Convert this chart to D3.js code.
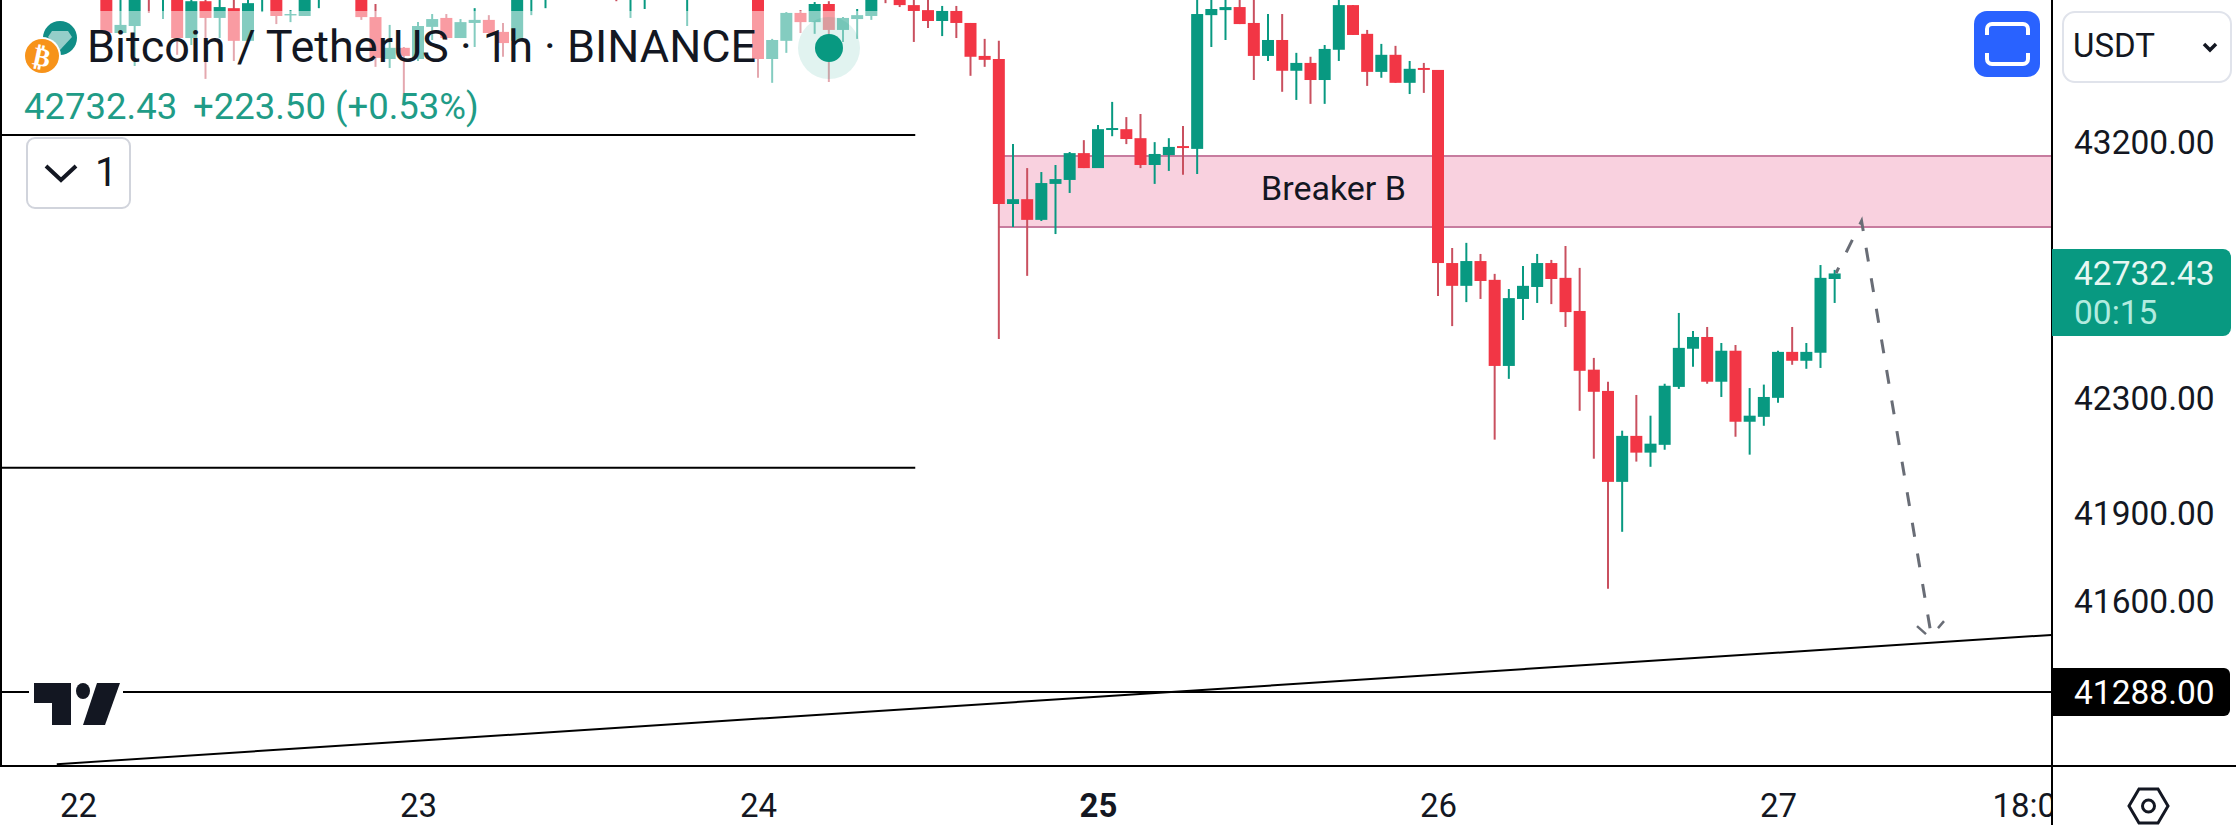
<!DOCTYPE html>
<html>
<head>
<meta charset="utf-8">
<script src="https://cdn.jsdelivr.net/npm/d3@7/dist/d3.min.js"></script>
<style>
  html, body { margin: 0; padding: 0; background: #fff; }
  svg { display: block; font-family: Roboto, sans-serif; }
</style>
</head>
<body>
<div id="chart"></div>
<script>
// hourly candles, first one is hour 2 of day 22
var firstHour = 2;

var opens = [
  43757,43585,43610,43792,43721,43721,43567,43699,43639,43674,
  43557,43714,43710,43648,43646,43721,43775,43760,43750,43642,
  43492,43532,43492,43607,43639,43567,43621,43632,43589,43557,
  43732,43721,43790,43770,43800,43765,43760,43730,43770,43800,
  43770,43735,43790,43760,43785,43755,43732,43492,43557,43657,
  43624,43689,43596,43635,43646,43770,43725,43685,43667,43628,
  43664,43621,43503,43492,42977,42994,42921,43048,43062,43157,
  43104,43239,43242,43210,43115,43150,43182,43172,43649,43667,
  43678,43621,43503,43560,43450,43478,43417,43525,43685,43582,
  43446,43507,43407,43460,43453,42769,42689,42776,42710,42409,
  42643,42685,42769,42717,42601,42396,42322,42007,42166,42108,
  42135,42336,42469,42510,42354,42462,42215,42232,42298,42458,
  42427,42455,42713
];
var highs = [
  43774,43750,43760,43810,43810,43740,43730,43715,43715,43710,
  43710,43775,43730,43667,43730,43790,43795,43810,43770,43689,
  43614,43535,43624,43653,43653,43635,43674,43649,43621,43760,
  43810,43800,43810,43820,43830,43815,43780,43790,43820,43825,
  43815,43810,43810,43800,43800,43800,43750,43564,43660,43667,
  43696,43699,43642,43671,43755,43790,43745,43710,43710,43682,
  43682,43621,43564,43557,43189,43104,43090,43115,43161,43203,
  43257,43339,43285,43296,43196,43210,43253,43730,43725,43720,
  43725,43725,43653,43653,43514,43500,43542,43720,43685,43596,
  43546,43539,43485,43478,43453,42822,42840,42801,42731,42678,
  42759,42801,42780,42829,42752,42437,42354,42184,42308,42236,
  42347,42594,42531,42545,42489,42482,42332,42344,42462,42545,
  42489,42762,42745
];
var lows = [
  43582,43585,43467,43657,43635,43507,43542,43421,43567,43485,
  43557,43660,43617,43624,43646,43674,43740,43735,43632,43464,
  43460,43335,43485,43560,43560,43567,43535,43582,43500,43557,
  43649,43674,43745,43750,43750,43745,43699,43639,43671,43745,
  43750,43610,43740,43740,43735,43735,43425,43407,43514,43585,
  43582,43410,43553,43564,43632,43692,43678,43553,43603,43574,
  43567,43432,43464,42503,42896,42724,42917,42871,43016,43104,
  43104,43217,43189,43104,43048,43094,43080,43083,43535,43560,
  43617,43417,43485,43375,43346,43332,43332,43485,43578,43396,
  43425,43407,43367,43371,42653,42548,42632,42643,42153,42364,
  42569,42629,42625,42545,42253,42087,41640,41835,42077,42059,
  42118,42329,42406,42347,42301,42163,42101,42201,42281,42413,
  42399,42402,42629
];
var closes = [
  43585,43614,43721,43721,43792,43567,43699,43639,43678,43557,
  43692,43757,43646,43653,43714,43774,43760,43790,43642,43496,
  43532,43503,43610,43635,43567,43624,43632,43585,43549,43739,
  43792,43782,43760,43800,43765,43795,43730,43770,43800,43770,
  43795,43790,43760,43785,43755,43780,43492,43560,43657,43624,
  43689,43596,43639,43649,43739,43720,43685,43664,43628,43664,
  43621,43500,43489,42977,42994,42921,43051,43065,43157,43104,
  43242,43246,43207,43115,43154,43179,43175,43653,43671,43678,
  43617,43503,43560,43450,43478,43417,43528,43685,43578,43446,
  43507,43407,43457,43453,42769,42689,42776,42706,42409,42646,
  42689,42769,42713,42597,42392,42319,42007,42166,42108,42139,
  42340,42472,42510,42354,42462,42215,42236,42301,42458,42427,
  42458,42717,42732.43
];

var priceTicks = [43200, 42300, 41900, 41600];
var hourTicks = [0, 24, 48, 72, 96, 120, 138];
var hourLabels = ["22", "23", "24", "25", "26", "27", "18:00"];

var levelPrices = [43221, 42056];
var levelEndHour = 59.1;
var alertPrice = 41288;
var trendHours = [-1.5, 139.3];
var trendPrices = [41044, 41482];
var zonePrices = [43147, 42896];
var zoneStartHour = 65;
var pathHours = [124.1, 125.9, 130.8];
var pathPrices = [42734, 42917, 41485];
var lastPrice = 42732.43;

var width = 2236, height = 825;
var axisX = 2052, axisY = 766;
var upColor = "#089981", downColor = "#F23645", ink = "#131722";

var x = d3.scaleLinear().domain([0, 24]).range([78, 418]);
var y = d3.scaleLog().domain([43200, 41288]).range([141, 692]);

var svg = d3.select("#chart").append("svg")
  .attr("width", width)
  .attr("height", height);

svg.append("rect").attr("width", width).attr("height", height).attr("fill", "#fff");

var defs = svg.append("defs");
defs.append("clipPath").attr("id", "pane")
  .append("rect").attr("width", axisX).attr("height", axisY);
defs.append("clipPath").attr("id", "timeaxis")
  .append("rect").attr("width", axisX).attr("height", height);

var pane = svg.append("g").attr("clip-path", "url(#pane)");

// breaker zone
pane.append("rect")
  .attr("x", x(zoneStartHour))
  .attr("y", y(zonePrices[0]))
  .attr("width", axisX - x(zoneStartHour))
  .attr("height", y(zonePrices[1]) - y(zonePrices[0]))
  .attr("fill", "#f9d1df");
pane.selectAll(".zone-edge").data(zonePrices).enter().append("line")
  .attr("x1", x(zoneStartHour)).attr("x2", axisX)
  .attr("y1", function(d) { return y(d); })
  .attr("y2", function(d) { return y(d); })
  .attr("stroke", "#c77c9f").attr("stroke-width", 2);

pane.append("text")
  .attr("x", 1261).attr("y", 200)
  .attr("font-size", 34).attr("fill", ink)
  .text("Breaker B");

// candles
var candles = pane.selectAll(".candle").data(opens).enter().append("g")
  .attr("class", "candle");

candles.append("line")
  .attr("x1", function(d, i) { return x(firstHour + i); })
  .attr("x2", function(d, i) { return x(firstHour + i); })
  .attr("y1", function(d, i) { return y(highs[i]); })
  .attr("y2", function(d, i) { return y(lows[i]); })
  .attr("stroke", function(d, i) { return closes[i] >= d ? upColor : "#c9505f"; })
  .attr("stroke-width", 2);

candles.append("rect")
  .attr("x", function(d, i) { return x(firstHour + i) - 6; })
  .attr("width", 12)
  .attr("y", function(d, i) { return y(Math.max(d, closes[i])); })
  .attr("height", function(d, i) { return Math.abs(y(d) - y(closes[i])); })
  .attr("fill", function(d, i) { return closes[i] >= d ? upColor : downColor; });

// legend washes out the candles under it
pane.append("rect")
  .attr("x", 0).attr("y", 11)
  .attr("width", 880).attr("height", 112)
  .attr("fill", "#fff").attr("opacity", 0.5);

// levels
pane.selectAll(".level").data(levelPrices).enter().append("line")
  .attr("x1", 0).attr("x2", x(levelEndHour))
  .attr("y1", function(d) { return y(d); })
  .attr("y2", function(d) { return y(d); })
  .attr("stroke", "#000").attr("stroke-width", 2);

pane.append("line")
  .attr("x1", 0).attr("x2", axisX)
  .attr("y1", y(alertPrice)).attr("y2", y(alertPrice))
  .attr("stroke", "#000").attr("stroke-width", 2);

pane.append("line")
  .attr("x1", x(trendHours[0])).attr("x2", x(trendHours[1]))
  .attr("y1", y(trendPrices[0])).attr("y2", y(trendPrices[1]))
  .attr("stroke", "#000").attr("stroke-width", 2);

// forecast arrow
var pathLine = d3.line()
  .x(function(d, i) { return x(d); })
  .y(function(d, i) { return y(pathPrices[i]); });

pane.append("path")
  .attr("d", pathLine(pathHours))
  .attr("fill", "none")
  .attr("stroke", "#696d76")
  .attr("stroke-width", 3)
  .attr("stroke-dasharray", "14 17")
  .attr("stroke-dashoffset", 8);

var tipX = x(pathHours[2]), tipY = y(pathPrices[2]);
pane.append("path")
  .attr("d", "M" + (tipX - 14) + "," + (tipY - 8) + "L" + (tipX - 5) + "," + tipY +
             "M" + (tipX + 13) + "," + (tipY - 13) + "L" + (tipX + 7) + "," + (tipY - 6))
  .attr("fill", "none")
  .attr("stroke", "#696d76")
  .attr("stroke-width", 2.5);

// price axis
var priceAxis = d3.axisRight(y)
  .tickValues(priceTicks)
  .tickFormat(d3.format(".2f"))
  .tickSize(0);

var priceG = svg.append("g")
  .attr("transform", "translate(" + axisX + ",0)")
  .call(priceAxis);
priceG.select(".domain").remove();
priceG.selectAll("text")
  .attr("x", 22)
  .attr("dy", "0.36em")
  .attr("font-family", "Roboto, sans-serif")
  .attr("font-size", 33.5)
  .attr("fill", ink);

// time axis
var timeAxis = d3.axisBottom(x)
  .tickValues(hourTicks)
  .tickFormat(function(d, i) { return hourLabels[i]; })
  .tickSize(0);

var timeG = svg.append("g")
  .attr("clip-path", "url(#timeaxis)")
  .append("g")
  .attr("transform", "translate(0," + axisY + ")")
  .call(timeAxis);
timeG.select(".domain").remove();
timeG.selectAll("text")
  .attr("y", 0)
  .attr("dy", 51)
  .attr("font-family", "Roboto, sans-serif")
  .attr("font-size", 33)
  .attr("font-weight", function(d, i) { return hourLabels[i] == "25" ? 700 : 400; })
  .attr("fill", ink);

// frame lines
svg.append("line").attr("x1", 1).attr("x2", 1).attr("y1", 0).attr("y2", axisY)
  .attr("stroke", "#000").attr("stroke-width", 2);
svg.append("line").attr("x1", axisX).attr("x2", axisX).attr("y1", 0).attr("y2", height)
  .attr("stroke", "#000").attr("stroke-width", 2);
svg.append("line").attr("x1", 0).attr("x2", width).attr("y1", axisY).attr("y2", axisY)
  .attr("stroke", "#000").attr("stroke-width", 2);

// last price tag
svg.append("path")
  .attr("d", "M2052,249H2223a8,8 0 0 1 8,8V328a8,8 0 0 1 -8,8H2052Z")
  .attr("fill", upColor);
svg.append("text").attr("x", 2074).attr("y", 285)
  .attr("font-size", 33.5).attr("fill", "#e6f7f2")
  .text(lastPrice.toFixed(2));
svg.append("text").attr("x", 2074).attr("y", 324)
  .attr("font-size", 33.5).attr("fill", "#b2ebdf")
  .text("00:15");

// alert price tag
svg.append("path")
  .attr("d", "M2052,668H2224a6,6 0 0 1 6,6V710a6,6 0 0 1 -6,6H2052Z")
  .attr("fill", "#000");
svg.append("text").attr("x", 2074).attr("y", 704)
  .attr("font-size", 33.5).attr("fill", "#fff")
  .text(alertPrice.toFixed(2));

// legend
svg.append("circle").attr("cx", 60).attr("cy", 38).attr("r", 17).attr("fill", "#108d86");
svg.append("path")
  .attr("d", "M52,31H68L72,37L60,50L48,37Z")
  .attr("fill", "#cfe9e6").attr("opacity", 0.7);
svg.append("circle").attr("cx", 42).attr("cy", 56).attr("r", 19).attr("fill", "#fff");
svg.append("circle").attr("cx", 42).attr("cy", 56).attr("r", 17).attr("fill", "#f7931a");
svg.append("text")
  .attr("x", 42).attr("y", 66)
  .attr("text-anchor", "middle")
  .attr("font-family", "DejaVu Sans")
  .attr("font-size", 26).attr("font-weight", 700).attr("fill", "#fff")
  .attr("transform", "rotate(12 42 56)")
  .text("₿");

svg.append("text").attr("x", 87).attr("y", 62)
  .attr("font-size", 45).attr("fill", ink)
  .text("Bitcoin / TetherUS · 1h · BINANCE");

svg.append("text").attr("x", 24).attr("y", 119)
  .attr("font-size", 36.5).attr("fill", "#1f9c87")
  .text("42732.43");
svg.append("text").attr("x", 193).attr("y", 119)
  .attr("font-size", 36.5).attr("fill", "#1f9c87")
  .text("+223.50 (+0.53%)");

svg.append("circle").attr("cx", 829).attr("cy", 48).attr("r", 31)
  .attr("fill", upColor).attr("opacity", 0.12);
svg.append("circle").attr("cx", 829).attr("cy", 48).attr("r", 14).attr("fill", upColor);

// collapse box
svg.append("rect")
  .attr("x", 27).attr("y", 138).attr("width", 103).attr("height", 70).attr("rx", 8)
  .attr("fill", "#fff").attr("stroke", "#d1d4dc").attr("stroke-width", 2);
svg.append("path")
  .attr("d", "M46,166L61,180L76,166")
  .attr("fill", "none").attr("stroke", ink).attr("stroke-width", 4);
svg.append("text").attr("x", 95).attr("y", 186)
  .attr("font-size", 40).attr("fill", ink)
  .text("1");

// fullscreen button
svg.append("rect")
  .attr("x", 1974).attr("y", 11).attr("width", 66).attr("height", 66).attr("rx", 13)
  .attr("fill", "#2962ff");
svg.append("path")
  .attr("d", "M1987,35V29a5,5 0 0 1 5,-5H2023a5,5 0 0 1 5,5V35M1987,53V59a5,5 0 0 0 5,5H2023a5,5 0 0 0 5,-5V53")
  .attr("fill", "none").attr("stroke", "#fff").attr("stroke-width", 4);

// currency box
svg.append("rect")
  .attr("x", 2063).attr("y", 12).attr("width", 168).attr("height", 70).attr("rx", 12)
  .attr("fill", "#fff").attr("stroke", "#e0e3eb").attr("stroke-width", 2);
svg.append("text").attr("x", 2073).attr("y", 57)
  .attr("font-size", 33).attr("fill", ink)
  .text("USDT");
svg.append("path")
  .attr("d", "M2204,44L2210,50L2216,44")
  .attr("fill", "none").attr("stroke", ink).attr("stroke-width", 3.5);

// tradingview mark, white patch breaks the level line
svg.append("rect").attr("x", 29).attr("y", 680).attr("width", 94).attr("height", 48).attr("fill", "#fff");
svg.append("path")
  .attr("d", "M34,683H71V725H52V703H34Z")
  .attr("fill", ink);
svg.append("ellipse").attr("cx", 83).attr("cy", 691).attr("rx", 7).attr("ry", 8).attr("fill", ink);
svg.append("path")
  .attr("d", "M97,683H120L105,725H83Z")
  .attr("fill", ink);

// settings hexagon
svg.append("path")
  .attr("d", "M2139,789H2158L2168,806L2158,823H2139L2129,806Z")
  .attr("fill", "none").attr("stroke", ink).attr("stroke-width", 3);
svg.append("circle").attr("cx", 2148.5).attr("cy", 806).attr("r", 6)
  .attr("fill", "none").attr("stroke", ink).attr("stroke-width", 3);
</script>
</body>
</html>
